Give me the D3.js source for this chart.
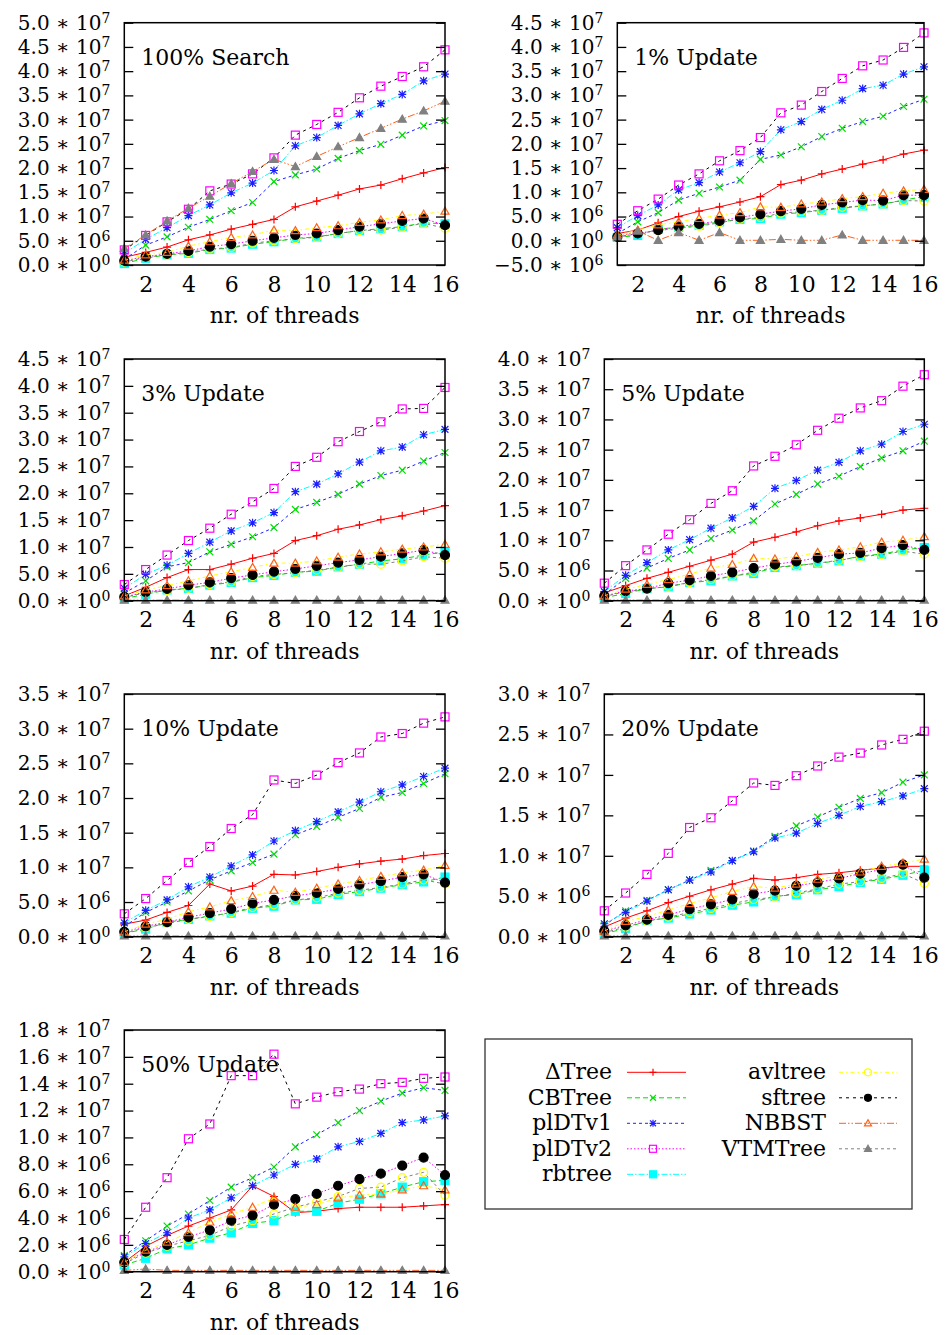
<!DOCTYPE html>
<html>
<head>
<meta charset="utf-8">
<script src="https://cdn.jsdelivr.net/npm/d3@7"></script>
<style>
body { margin: 0; background: #fff; }
svg text { font-family: "DejaVu Serif", "Liberation Serif", serif; fill: #000; }
</style>
</head>
<body>
<div id="chart"></div>
<script>
// x values and tick labels
var threads = [1, 2, 3, 4, 5, 6, 7, 8, 9, 10, 11, 12, 13, 14, 15, 16];
var xTicks = [2, 4, 6, 8, 10, 12, 14, 16];
var seriesNames = ["ΔTree", "CBTree", "plDTv1", "plDTv2", "rbtree", "avltree", "sftree", "NBBST", "VTMTree"];

// throughput in millions, one row per series (same order as seriesNames)
var search100 = [
  [1.6, 2.6, 3.7, 5.2, 6.2, 7.4, 8.4, 9.4, 12.0, 13.2, 14.4, 15.7, 16.5, 17.8, 19.0, 20.1],
  [1.2, 4.1, 5.8, 7.8, 9.4, 11.2, 12.9, 17.2, 18.6, 19.8, 22.0, 23.6, 24.9, 26.8, 28.7, 29.8],
  [2.4, 5.3, 7.7, 10.2, 12.4, 14.9, 16.9, 19.5, 24.6, 26.3, 28.8, 31.2, 33.3, 35.2, 38.0, 39.4],
  [3.1, 6.1, 8.9, 11.5, 15.3, 16.7, 18.8, 22.1, 26.8, 29.0, 31.5, 34.5, 36.9, 38.9, 40.9, 44.4],
  [0.3, 1.4, 2.1, 2.4, 3.2, 3.5, 4.3, 4.8, 5.5, 5.8, 6.5, 7.1, 7.5, 7.9, 8.7, 8.5],
  [0.6, 1.6, 2.1, 2.6, 3.3, 3.6, 4.5, 5.0, 5.4, 5.7, 6.5, 7.1, 7.2, 7.8, 8.6, 7.6],
  [0.9, 1.7, 2.3, 2.9, 3.8, 4.3, 5.0, 5.6, 6.2, 6.5, 7.2, 7.9, 8.5, 9.1, 9.6, 8.2],
  [1.0, 2.1, 2.6, 3.9, 4.8, 5.7, 6.2, 7.2, 7.1, 7.7, 8.1, 8.8, 9.3, 10.2, 10.5, 11.1],
  [3.4, 6.2, 9.1, 11.7, 14.2, 16.8, 19.3, 21.8, 20.3, 22.4, 24.4, 26.3, 28.2, 30.1, 31.8, 33.8]
];
var update1 = [
  [1.5, 2.2, 3.7, 5.0, 6.1, 7.0, 8.0, 9.1, 11.6, 12.5, 13.8, 14.8, 15.8, 16.7, 17.9, 18.7],
  [1.5, 3.9, 5.8, 8.4, 9.8, 11.1, 12.5, 16.8, 17.7, 19.4, 21.5, 23.2, 24.6, 25.7, 27.7, 29.2],
  [2.7, 5.2, 7.4, 10.5, 12.0, 14.2, 16.1, 18.4, 22.9, 24.6, 27.1, 29.0, 31.4, 32.1, 34.4, 35.9],
  [3.4, 6.2, 8.6, 11.5, 13.8, 16.5, 18.6, 21.3, 26.4, 28.0, 30.8, 33.5, 36.1, 37.3, 39.9, 42.9],
  [0.7, 1.1, 2.4, 2.8, 3.2, 3.9, 4.4, 4.6, 5.5, 5.8, 6.3, 6.7, 7.2, 7.6, 8.4, 9.1],
  [0.7, 1.5, 2.1, 2.6, 3.0, 3.7, 4.5, 4.8, 5.7, 6.0, 6.3, 6.9, 7.2, 7.6, 8.3, 8.2],
  [0.8, 1.5, 2.2, 2.9, 3.5, 4.1, 4.8, 5.5, 6.1, 6.6, 7.4, 7.9, 8.4, 8.3, 9.4, 9.4],
  [1.2, 2.2, 3.3, 3.9, 4.6, 5.3, 5.8, 7.0, 6.9, 7.6, 8.0, 8.7, 9.1, 9.8, 10.3, 10.6],
  [0.8, 2.0, 0.1, 1.7, 0.1, 1.7, 0.1, 0.1, 0.3, 0.1, 0.1, 1.2, 0.1, 0.1, 0.1, 0.1]
];
var update3 = [
  [0.9, 2.5, 4.3, 5.8, 5.8, 6.8, 7.9, 8.8, 11.2, 12.1, 13.3, 14.1, 15.1, 15.8, 16.7, 17.7],
  [1.4, 3.7, 6.3, 7.1, 9.1, 10.5, 11.9, 13.6, 17.0, 18.3, 19.8, 21.7, 23.3, 24.3, 26.0, 27.6],
  [2.3, 4.9, 6.6, 8.8, 10.9, 13.0, 14.5, 16.4, 20.3, 21.7, 23.6, 25.8, 27.9, 28.6, 30.9, 31.9],
  [3.0, 5.8, 8.5, 11.2, 13.5, 16.1, 18.4, 20.9, 25.0, 26.7, 29.6, 31.5, 33.3, 35.7, 35.8, 39.7],
  [0.4, 1.2, 2.0, 2.3, 2.9, 3.4, 4.3, 4.7, 5.3, 5.5, 6.3, 6.8, 7.4, 7.8, 8.5, 9.1],
  [0.6, 1.5, 1.9, 2.3, 3.0, 3.5, 4.5, 4.9, 5.2, 5.7, 6.2, 6.8, 6.8, 7.4, 8.2, 7.9],
  [0.7, 1.6, 2.2, 2.9, 3.4, 4.2, 4.8, 5.4, 5.9, 6.5, 7.1, 7.6, 8.2, 8.8, 9.4, 8.5],
  [0.9, 2.0, 2.8, 3.7, 4.6, 5.4, 6.2, 7.0, 7.0, 7.4, 8.1, 8.7, 9.1, 9.6, 10.0, 10.5],
  [0.1, 0.1, 0.1, 0.1, 0.1, 0.1, 0.1, 0.1, 0.1, 0.1, 0.1, 0.1, 0.1, 0.1, 0.1, 0.1]
];
var update5 = [
  [1.3, 2.5, 3.7, 4.7, 5.7, 6.7, 7.7, 9.7, 10.5, 11.4, 12.4, 13.2, 13.7, 14.3, 15.0, 15.3],
  [1.0, 3.7, 5.4, 7.0, 8.4, 10.3, 11.7, 13.2, 16.0, 17.6, 19.3, 20.6, 22.2, 23.6, 24.8, 26.4],
  [1.5, 4.2, 6.3, 8.4, 10.1, 12.0, 13.7, 15.6, 18.6, 19.9, 21.6, 22.9, 24.8, 25.9, 28.0, 29.2],
  [2.9, 5.8, 8.4, 11.0, 13.4, 16.1, 18.2, 22.3, 23.9, 25.8, 28.2, 30.2, 31.9, 33.1, 35.5, 37.4],
  [0.5, 1.2, 2.0, 2.3, 3.0, 3.3, 4.1, 4.5, 5.5, 5.8, 6.2, 6.6, 7.4, 7.7, 8.4, 8.8],
  [0.7, 1.5, 1.9, 2.4, 3.0, 3.5, 4.1, 4.7, 5.6, 5.8, 6.2, 6.7, 7.3, 7.6, 8.2, 7.7],
  [0.8, 1.6, 2.0, 2.9, 3.4, 4.1, 4.7, 5.4, 6.0, 6.5, 7.1, 7.7, 7.9, 8.7, 9.2, 8.4],
  [0.8, 1.9, 2.7, 3.5, 4.4, 5.4, 6.0, 7.0, 6.9, 7.3, 8.0, 8.4, 8.9, 9.7, 10.0, 10.6],
  [0.1, 0.1, 0.1, 0.1, 0.1, 0.1, 0.1, 0.1, 0.1, 0.1, 0.1, 0.1, 0.1, 0.1, 0.1, 0.1]
];
var update10 = [
  [1.8, 2.4, 3.5, 4.5, 7.6, 6.6, 7.3, 9.0, 8.9, 9.4, 10.0, 10.5, 10.9, 11.2, 11.7, 12.0],
  [1.5, 3.5, 5.0, 6.6, 8.2, 9.5, 10.7, 11.9, 14.7, 15.9, 17.2, 18.5, 20.1, 20.8, 22.1, 23.5],
  [2.0, 3.8, 5.3, 7.2, 8.6, 10.2, 11.8, 13.8, 15.3, 16.6, 18.0, 19.4, 20.9, 21.9, 23.1, 24.3],
  [3.3, 5.5, 8.1, 10.7, 13.0, 15.6, 17.6, 22.6, 22.1, 23.3, 25.1, 26.5, 28.8, 29.3, 30.8, 31.7],
  [0.5, 1.1, 2.1, 2.5, 3.0, 3.4, 4.1, 4.4, 5.3, 5.4, 6.1, 6.5, 7.0, 7.5, 7.9, 8.6],
  [0.5, 1.3, 1.9, 2.5, 2.9, 3.5, 4.2, 4.6, 5.3, 5.6, 6.3, 6.7, 7.1, 7.6, 8.2, 7.6],
  [0.7, 1.5, 2.1, 2.8, 3.4, 4.0, 4.8, 5.3, 5.9, 6.3, 6.9, 7.5, 8.0, 8.6, 9.0, 7.8],
  [0.7, 1.8, 2.5, 3.6, 4.3, 5.2, 5.8, 6.7, 6.4, 7.0, 7.6, 8.1, 8.7, 9.2, 9.6, 10.3],
  [0.1, 0.1, 0.1, 0.1, 0.1, 0.1, 0.1, 0.1, 0.1, 0.1, 0.1, 0.1, 0.1, 0.1, 0.1, 0.1]
];
var update20 = [
  [1.2, 2.3, 3.2, 4.2, 5.0, 5.8, 6.5, 7.2, 7.0, 7.3, 7.7, 7.9, 8.2, 8.5, 8.7, 8.7],
  [1.4, 3.2, 4.5, 5.8, 7.0, 8.2, 9.4, 10.6, 12.4, 13.7, 14.8, 16.0, 17.1, 17.8, 19.1, 20.0],
  [1.6, 3.0, 4.4, 5.8, 7.0, 8.0, 9.4, 10.5, 12.2, 12.8, 14.0, 15.0, 16.1, 16.7, 17.4, 18.3],
  [3.2, 5.4, 7.7, 10.3, 13.5, 14.7, 16.8, 19.0, 18.7, 19.9, 21.1, 22.2, 22.7, 23.7, 24.4, 25.4],
  [0.4, 1.0, 2.0, 2.3, 2.8, 3.3, 3.9, 4.3, 5.0, 5.2, 5.8, 6.2, 6.7, 7.1, 7.6, 8.2],
  [0.5, 1.2, 1.9, 2.4, 3.0, 3.5, 4.1, 4.6, 4.9, 5.4, 5.9, 6.5, 6.8, 7.2, 7.8, 6.6],
  [0.7, 1.4, 2.1, 2.7, 3.4, 4.0, 4.6, 5.3, 5.7, 6.3, 6.7, 7.2, 7.8, 8.3, 8.9, 7.3],
  [0.7, 1.9, 2.5, 3.3, 4.1, 4.8, 5.6, 6.2, 6.0, 6.5, 7.1, 7.5, 8.0, 8.7, 9.1, 9.6],
  [0.1, 0.1, 0.1, 0.1, 0.1, 0.1, 0.1, 0.1, 0.1, 0.1, 0.1, 0.1, 0.1, 0.1, 0.1, 0.1]
];
var update50 = [
  [0.7, 1.9, 2.7, 3.4, 4.0, 4.6, 6.4, 5.6, 4.4, 4.5, 4.7, 4.8, 4.8, 4.8, 4.9, 5.0],
  [1.2, 2.3, 3.4, 4.3, 5.3, 6.3, 7.0, 7.8, 9.3, 10.2, 11.1, 12.0, 12.7, 13.3, 13.7, 13.5],
  [1.1, 2.1, 2.9, 4.0, 4.6, 5.5, 6.4, 7.2, 8.0, 8.4, 9.3, 9.7, 10.3, 11.1, 11.3, 11.6],
  [2.4, 4.8, 7.0, 9.9, 11.0, 14.6, 14.6, 16.2, 12.5, 13.0, 13.4, 13.6, 14.0, 14.1, 14.4, 14.5],
  [0.5, 1.0, 1.7, 2.0, 2.5, 2.9, 3.6, 3.8, 4.5, 4.5, 5.1, 5.4, 5.8, 6.3, 6.7, 6.8],
  [0.6, 1.4, 1.9, 2.3, 2.7, 3.4, 3.8, 4.3, 4.8, 5.2, 5.6, 6.2, 6.3, 7.0, 7.4, 5.7],
  [0.7, 1.5, 2.0, 2.6, 3.1, 3.8, 4.2, 5.0, 5.4, 5.8, 6.4, 6.9, 7.3, 7.9, 8.5, 7.2],
  [0.7, 1.6, 2.2, 2.9, 3.7, 4.3, 4.8, 5.5, 4.8, 5.0, 5.5, 5.7, 5.8, 6.1, 6.4, 6.1],
  [0.1, 0.2, 0.1, 0.1, 0.1, 0.1, 0.1, 0.1, 0.1, 0.1, 0.1, 0.1, 0.1, 0.1, 0.1, 0.1]
];

var panelTitles = ["100% Search", "1% Update", "3% Update", "5% Update", "10% Update", "20% Update", "50% Update"];
var panelData = [search100, update1, update3, update5, update10, update20, update50];
// y axis: [min, max, step] in raw ops
var yRanges = [[0, 5e7, 5e6], [-5e6, 4.5e7, 5e6], [0, 4.5e7, 5e6], [0, 4e7, 5e6],
               [0, 3.5e7, 5e6], [0, 3e7, 5e6], [0, 1.8e7, 2e6]];

// layout of each plot box
var boxes = [
  {l: 124.3, r: 445, t: 22.7, b: 265},
  {l: 617.3, r: 924, t: 22.7, b: 265},
  {l: 124.3, r: 445, t: 359, b: 600.7},
  {l: 604.3, r: 924.3, t: 359, b: 600.7},
  {l: 124.3, r: 445, t: 694, b: 936.7},
  {l: 604.3, r: 924.3, t: 694, b: 936.7},
  {l: 124.3, r: 445, t: 1030, b: 1271.7}
];

var colors = ["#ff0000", "#00e000", "#1e1eff", "#ff00ff", "#00ffff", "#ffff00", "#000000", "#ff6018", "#808080"];
var dashes = ["none", "5,3", "3,3", "1.5,2", "6,2,1.5,2", "4,3,1.5,3", "3,4", "7,2,1.5,2,1.5,2", "3,3"];
// gnuplot drew each connecting line with a neighbour's line style
var lineStyleOf = [0, 2, 4, 6, 1, 8, 3, 5, 7];

var W = 945, H = 1335, FS = 22, FS_TICK = 20;

var svg = d3.select("#chart").append("svg")
  .attr("width", W).attr("height", H);

function sciParts(v) {
  if (v === 0) return ["0.0", "0"];
  var e = Math.floor(Math.log10(Math.abs(v)) + 1e-9);
  var m = v / Math.pow(10, e);
  return [(m < 0 ? "\u2212" : "") + Math.abs(m).toFixed(1), String(e)];
}

function drawMarker(g, i, x, y, s) {
  var c = colors[i], h = s / 2;
  if (i === 0) {
    g.append("path").attr("d", "M" + (x - h) + "," + y + "H" + (x + h) + "M" + x + "," + (y - h) + "V" + (y + h))
      .attr("stroke", c).attr("stroke-width", 1.2).attr("fill", "none");
  } else if (i === 1 || i === 2) {
    var k = h * 0.85;
    var d = "M" + (x - k) + "," + (y - k) + "L" + (x + k) + "," + (y + k) + "M" + (x - k) + "," + (y + k) + "L" + (x + k) + "," + (y - k);
    if (i === 2) d += "M" + (x - h) + "," + y + "H" + (x + h) + "M" + x + "," + (y - h) + "V" + (y + h);
    g.append("path").attr("d", d).attr("stroke", c).attr("stroke-width", 1.2).attr("fill", "none");
  } else if (i === 3 || i === 4) {
    g.append("rect").attr("x", x - h).attr("y", y - h).attr("width", s).attr("height", s)
      .attr("fill", i === 4 ? c : "none").attr("stroke", c).attr("stroke-width", 1.2);
  } else if (i === 5 || i === 6) {
    g.append("circle").attr("cx", x).attr("cy", y).attr("r", h)
      .attr("fill", i === 6 ? c : "none").attr("stroke", c).attr("stroke-width", 1.2);
  } else {
    var tri = "M" + x + "," + (y - h) + "L" + (x + h) + "," + (y + h * 0.75) + "L" + (x - h) + "," + (y + h * 0.75) + "Z";
    g.append("path").attr("d", tri).attr("fill", i === 8 ? c : "none").attr("stroke", c).attr("stroke-width", 1.2);
  }
}

panelData.forEach(function(data, p) {
  var box = boxes[p], yr = yRanges[p];
  var x = d3.scaleLinear().domain([1, 16]).range([box.l, box.r]);
  var y = d3.scaleLinear().domain([yr[0], yr[1]]).range([box.b, box.t]);
  var yTicks = d3.range(yr[0], yr[1] + yr[2] / 2, yr[2]);
  var g = svg.append("g");

  // series lines and markers
  data.forEach(function(vals, i) {
    var pts = vals.map(function(v, k) { return [x(threads[k]), y(v * 1e6)]; });
    var ls = lineStyleOf[i];
    g.append("path").attr("d", d3.line()(pts))
      .attr("fill", "none").attr("stroke", colors[ls]).attr("stroke-width", 1)
      .attr("stroke-dasharray", dashes[ls]);
    var mg = g.append("g");
    pts.forEach(function(pt) { drawMarker(mg, i, pt[0], pt[1], i === 6 ? 9 : 8); });
  });

  // left axis with inward ticks
  var yl = g.append("g").attr("transform", "translate(" + box.l + ",0)")
    .call(d3.axisLeft(y).tickValues(yTicks).tickSizeInner(-9).tickSizeOuter(0).tickPadding(14));
  yl.select(".domain").remove();
  yl.selectAll(".tick line").attr("stroke", "#000").attr("stroke-width", 1.3);
  yl.selectAll(".tick text").each(function(d) {
    var t = d3.select(this), parts = sciParts(d);
    t.text(null).attr("font-size", FS_TICK).attr("font-family", null);
    t.append("tspan").text(parts[0] + " \u2217 10");
    t.append("tspan").attr("font-size", 14).attr("dy", "-0.5em").text(parts[1]);
  });

  // right axis mirror ticks
  var yr2 = g.append("g").attr("transform", "translate(" + box.r + ",0)")
    .call(d3.axisRight(y).tickValues(yTicks).tickSizeInner(-9).tickSizeOuter(0).tickFormat(""));
  yr2.select(".domain").remove();
  yr2.selectAll(".tick line").attr("stroke", "#000").attr("stroke-width", 1.3);

  // bottom axis labels
  var xb = g.append("g").attr("transform", "translate(0," + box.b + ")")
    .call(d3.axisBottom(x).tickValues(xTicks).tickSize(0).tickPadding(11));
  xb.select(".domain").remove();
  xb.selectAll(".tick text").attr("font-size", FS).attr("font-family", null);

  // frame
  g.append("rect").attr("x", box.l).attr("y", box.t)
    .attr("width", box.r - box.l).attr("height", box.b - box.t)
    .attr("fill", "none").attr("stroke", "#000").attr("stroke-width", 1.5);

  g.append("text").attr("x", (box.l + box.r) / 2).attr("y", box.b + 58)
    .attr("text-anchor", "middle").attr("font-size", FS).text("nr. of threads");

  g.append("text").attr("x", box.l + 17).attr("y", box.t + 42)
    .attr("font-size", FS).text(panelTitles[p]);
});

// legend
var lg = svg.append("g");
lg.append("rect").attr("x", 485).attr("y", 1039).attr("width", 427).attr("height", 170)
  .attr("fill", "#fff").attr("stroke", "#333").attr("stroke-width", 1.3);

var legendCols = [{textX: 612, x0: 627, x1: 686, mx: 653}, {textX: 826, x0: 839, x1: 897, mx: 868}];
seriesNames.forEach(function(name, i) {
  var col = legendCols[i < 5 ? 0 : 1];
  var row = i < 5 ? i : i - 5;
  var cy = 1072.3 + row * 25.5;
  lg.append("text").attr("x", col.textX).attr("y", cy + 7)
    .attr("text-anchor", "end").attr("font-size", FS).text(name);
  lg.append("line").attr("x1", col.x0).attr("x2", col.x1).attr("y1", cy).attr("y2", cy)
    .attr("stroke", colors[i]).attr("stroke-width", 1).attr("stroke-dasharray", dashes[i]);
  drawMarker(lg, i, col.mx, cy, 7);
});
</script>
</body>
</html>
